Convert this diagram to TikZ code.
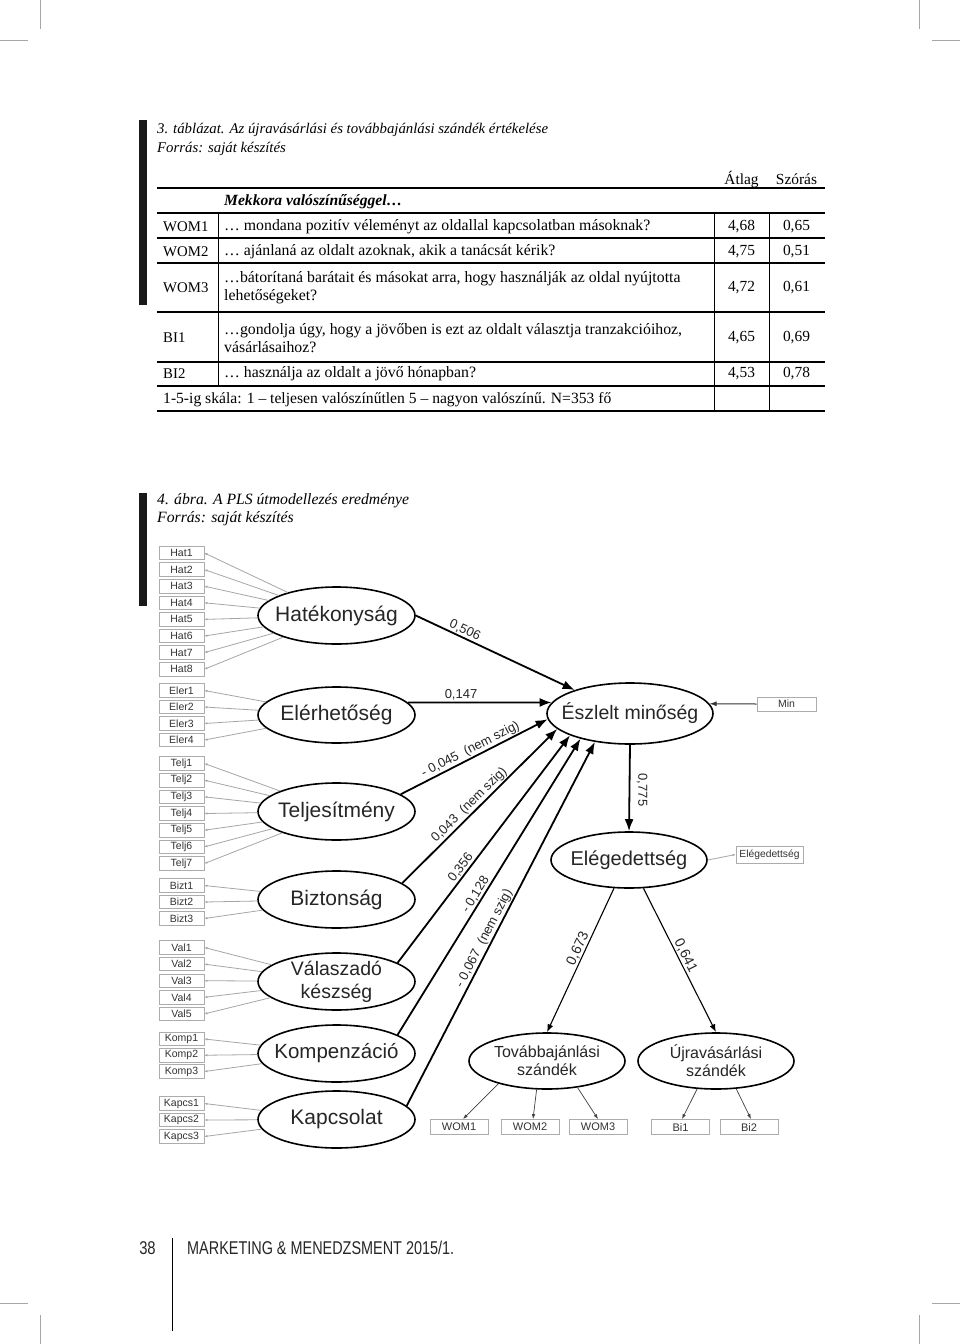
\documentclass[tikz,border=0pt]{standalone}
\usepackage{fontspec}
\usepackage{graphicx}
\setmainfont{Liberation Serif}
\newfontfamily\arialf{Liberation Sans}
\usetikzlibrary{arrows.meta,shapes.geometric}
\begin{document}
\begin{tikzpicture}[x=1pt,y=-1pt,
  tx/.style={anchor=west, inner sep=0pt, font=\fontsize{15.8}{18}\selectfont, align=left},
  rl/.style={anchor=west, inner sep=0pt, font=\fontsize{14.8}{18}\selectfont},
  num/.style={inner sep=0pt, font=\fontsize{15.4}{18}\selectfont},
  ttl/.style={anchor=west, inner sep=0pt, font=\itshape\fontsize{14.8}{18}\selectfont},
  hl/.style={line width=1.1pt},
  thk/.style={line width=1.9pt},
  vl/.style={line width=0.9pt},
  bar/.style={fill=black!90, draw=none},
  crop/.style={draw=gray!70, line width=0.8pt},
  lat/.style={ellipse, draw, line width=1.6pt, minimum width=157pt, minimum height=57pt, inner sep=0pt},
  lt/.style={inner sep=0pt, align=center, font=\arialf\fontsize{21}{23}\selectfont, text=black!85},
  ind/.style={draw=gray!65, line width=0.8pt, minimum width=45pt, minimum height=13.5pt, inner sep=0pt, font=\arialf\fontsize{10.5}{11}\selectfont, text=black!80},
  bind/.style={draw=gray!65, line width=0.8pt, minimum width=58pt, minimum height=15pt, inner sep=0pt, font=\arialf\fontsize{11}{12}\selectfont, text=black!80},
  ld/.style={draw=gray!70, line width=0.8pt, {Latex[length=3pt,width=2.5pt]}-},
  pa/.style={line width=1.8pt, -{Latex[length=12pt,width=9pt]}},
  ta/.style={line width=1.1pt, -{Latex[length=8pt,width=6pt]}},
  ref/.style={draw=black!75, line width=0.7pt, -{Latex[length=5pt,width=3.5pt]}},
  lab/.style={inner sep=1pt, font=\arialf\fontsize{13}{14}\selectfont, text=black!85}
]
\useasboundingbox (0,0) rectangle (960,1344);
\fill[white] (0,0) rectangle (960,1344);
% crop marks
\draw[crop] (40,0) -- (40,29); \draw[crop] (0,40.5) -- (28,40.5);
\draw[crop] (919,0) -- (919,29); \draw[crop] (932,40.5) -- (960,40.5);
\draw[crop] (0,1303) -- (28,1303); \draw[crop] (40,1315) -- (40,1344);
\draw[crop] (932,1303) -- (960,1303); \draw[crop] (919,1315) -- (919,1344);

% ---------- table ----------
\fill[bar] (139,120) rectangle (147,305);
\node[ttl] (t1) at (157,130) {3. táblázat. Az újravásárlási és továbbajánlási szándék értékelése};
\node[ttl] (t2) at (157,149) {Forrás: saját készítés};
\node[num, anchor=base] (hA) at (741.5,184) {Átlag};
\node[num, anchor=base] (hS) at (796.5,184) {Szórás};
\draw[thk] (157,188) -- (825,188);
\node[tx, font=\bfseries\itshape\fontsize{15.6}{18}\selectfont] (mek) at (224,202) {Mekkora valószínűséggel…};
\foreach \yy in {213,238,263,312,362,386} \draw[hl] (157,\yy) -- (825,\yy);
\draw[thk] (157,411) -- (825,411);
\draw[vl] (218,213) -- (218,386);
\draw[vl] (714,213) -- (714,411);
\draw[vl] (769,213) -- (769,411);

\node[rl] (r1a) at (163,227) {WOM1};
\node[tx] (r1b) at (224,227) {… mondana pozitív véleményt az oldallal kapcsolatban másoknak?};
\node[num] (r1c) at (741.5,227) {4,68};
\node[num] (r1d) at (796.5,227) {0,65};
\node[rl] (r2a) at (163,252) {WOM2};
\node[tx] (r2b) at (224,252) {… ajánlaná az oldalt azoknak, akik a tanácsát kérik?};
\node[num] (r2c) at (741.5,252) {4,75};
\node[num] (r2d) at (796.5,252) {0,51};
\node[rl] (r3a) at (163,288) {WOM3};
\node[tx] (r3b) at (224,288) {…bátorítaná barátait és másokat arra, hogy használják az oldal nyújtotta\\lehetőségeket?};
\node[num] (r3c) at (741.5,288) {4,72};
\node[num] (r3d) at (796.5,288) {0,61};
\node[rl] (r4a) at (163,338) {BI1};
\node[tx] (r4b) at (224,338) {…gondolja úgy, hogy a jövőben is ezt az oldalt választja tranzakcióihoz,\\vásárlásaihoz?};
\node[num] (r4c) at (741.5,338) {4,65};
\node[num] (r4d) at (796.5,338) {0,69};
\node[rl] (r5a) at (163,374) {BI2};
\node[tx] (r5b) at (224,374) {… használja az oldalt a jövő hónapban?};
\node[num] (r5c) at (741.5,374) {4,53};
\node[num] (r5d) at (796.5,374) {0,78};
\node[tx, font=\fontsize{15.6}{18}\selectfont] (fn) at (163,400) {1-5-ig skála: 1 – teljesen valószínűtlen 5 – nagyon valószínű. N=353 fő};

% ---------- figure ----------
\fill[bar] (139,493) rectangle (147,606);
\node[ttl, font=\itshape\fontsize{15.7}{18}\selectfont] (f1) at (157,501) {4. ábra. A PLS útmodellezés eredménye};
\node[ttl, font=\itshape\fontsize{15.7}{18}\selectfont] (f2) at (157,519) {Forrás: saját készítés};

% latent variables
\node[lat] (hat) at (336.5,615.5) {};
\node[lt] (hatT) at (hat) {Hatékonyság};
\node[lat, minimum height=56pt] (eler) at (336.5,715) {};
\node[lt] (elerT) at (eler) {Elérhetőség};
\node[lat] (telj) at (336.5,811.5) {};
\node[lt] (teljT) at (telj) {Teljesítmény};
\node[lat] (bizt) at (336.5,899.5) {};
\node[lt] (biztT) at (bizt) {Biztonság};
\node[lat] (val) at (336.5,981.5) {};
\node[lt, font=\arialf\fontsize{19.5}{23}\selectfont] (valT) at (val) {Válaszadó\\készség};
\node[lat] (komp) at (336.5,1053.5) {};
\node[lt, font=\arialf\fontsize{20.5}{23}\selectfont] (kompT) at (komp) {Kompenzáció};
\node[lat] (kapc) at (336.5,1119.5) {};
\node[lt] (kapcT) at (kapc) {Kapcsolat};
\node[lat, minimum width=166pt, minimum height=61pt] (esz) at (630,713.5) {};
\node[lt, font=\arialf\fontsize{19.5}{23}\selectfont] (eszT) at (esz) {Észlelt minőség};
\node[lat, minimum width=156pt, minimum height=56pt] (eleg) at (629,860) {};
\node[lt, font=\arialf\fontsize{20}{23}\selectfont] (elegT) at (eleg) {Elégedettség};
\node[lat, minimum width=156pt, minimum height=56pt] (tov) at (547,1061) {};
\node[lt, font=\arialf\fontsize{16}{18}\selectfont] (tovT) at (tov) {Továbbajánlási\\szándék};
\node[lat, minimum width=156pt, minimum height=56pt] (ujr) at (716,1061) {};
\node[lt, font=\arialf\fontsize{16}{18}\selectfont] (ujrT) at (ujr) {Újravásárlási\\szándék};

% indicators (left)
\foreach \i in {1,...,8} {
  \node[ind] (hat\i) at (181.5,{553+16.6*(\i-1)}) {Hat\i};
  \draw[ld] (hat\i.east) -- (hat);
}
\foreach \i in {1,...,4} {
  \node[ind] (eler\i) at (181.5,{690.5+16.5*(\i-1)}) {Eler\i};
  \draw[ld] (eler\i.east) -- (eler);
}
\foreach \i in {1,...,7} {
  \node[ind] (telj\i) at (181.5,{763.5+16.67*(\i-1)}) {Telj\i};
  \draw[ld] (telj\i.east) -- (telj);
}
\foreach \i in {1,...,3} {
  \node[ind] (bizt\i) at (181.5,{885.5+16.5*(\i-1)}) {Bizt\i};
  \draw[ld] (bizt\i.east) -- (bizt);
}
\foreach \i in {1,...,5} {
  \node[ind] (val\i) at (181.5,{947.5+16.6*(\i-1)}) {Val\i};
  \draw[ld] (val\i.east) -- (val);
}
\foreach \i in {1,...,3} {
  \node[ind] (komp\i) at (181.5,{1039+16.25*(\i-1)}) {Komp\i};
  \draw[ld] (komp\i.east) -- (komp);
}
\foreach \i in {1,...,3} {
  \node[ind] (kapc\i) at (181.5,{1103.5+16.5*(\i-1)}) {Kapcs\i};
  \draw[ld] (kapc\i.east) -- (kapc);
}

% structural paths
\draw[pa] (hat.east) -- node[lab, sloped, above, pos=0.29] (l1) {0,506} (esz.157);
\draw[pa] (eler.10) -- node[lab, above, pos=0.37] (l2) {0,147} (esz.172);
\draw[pa] (telj.15) -- node[lab, sloped, above, pos=0.5] (l3) {- 0,045~~(nem szig)} (esz.184);
\draw[pa] (bizt.14) -- node[lab, sloped, above, pos=0.47] (l4) {0,043~~(nem szig)} (esz.192.5);
\draw[pa] (val.17) -- node[lab, sloped, above, pos=0.40] (l5) {0,356} (esz.200.5);
\draw[pa] (komp.17) -- node[lab, sloped, above, pos=0.46] (l6) {- 0,128} (esz.207);
\draw[pa] (kapc.11) -- node[lab, sloped, above, pos=0.45] (l7) {- 0,067~~(nem szig)} (esz.219.5);
\draw[pa] (esz.south) -- (eleg.north);
\node[lab, rotate=-90] (l8) at (642,790) {0,775};
\draw[ta] (eleg.242) -- node[lab, sloped, above, pos=0.44, font=\arialf\fontsize{14}{15}\selectfont] (l9) {0,673} (tov.north);
\draw[ta] (eleg.297) -- node[lab, sloped, above, pos=0.49, font=\arialf\fontsize{14}{15}\selectfont] (l10) {0,641} (ujr.north);

% Min and Elégedettség indicators
\node[ind, minimum width=59pt, minimum height=14pt] (min) at (786.5,704) {Min};
\draw[draw=black!80, line width=1pt, -{Latex[length=7pt,width=5pt]}] (min.west) -- (esz.7);
\node[ind, minimum width=67pt, minimum height=17pt, font=\arialf\fontsize{10.3}{11}\selectfont] (elegb) at (769.5,854.5) {Elégedettség};
\draw[ld, -{Latex[length=3pt,width=2.5pt]}] (eleg.east) -- (elegb.west);

% bottom indicators
\node[bind] (bw1) at (459,1127) {WOM1};
\node[bind] (bw2) at (530,1127) {WOM2};
\node[bind] (bw3) at (598,1127) {WOM3};
\node[bind] (bb1) at (680.5,1127) {Bi1};
\node[bind] (bb2) at (749,1127) {Bi2};
\draw[ref] (tov.205) -- ([xshift=4pt]bw1.north);
\draw[ref] (tov.250) -- ([xshift=3pt]bw2.north);
\draw[ref] (tov.319) -- (bw3.north);
\draw[ref] (ujr.236) -- ([xshift=1.5pt]bb1.north);
\draw[ref] (ujr.306) -- ([xshift=2pt]bb2.north);

% footer
\node[inner sep=0pt, font=\arialf\fontsize{18.5}{20}\selectfont, text=black!85] (pg) at (147.5,1248) {\scalebox{0.8}[1]{38}};
\node[anchor=west, inner sep=0pt, font=\arialf\fontsize{18.5}{20}\selectfont, text=black!85] (jr) at (187,1248) {\scalebox{0.78}[1]{MARKETING \& MENEDZSMENT 2015/1.}};
\draw[line width=0.8pt] (172.5,1238) -- (172.5,1331);
\end{tikzpicture}
\end{document}
